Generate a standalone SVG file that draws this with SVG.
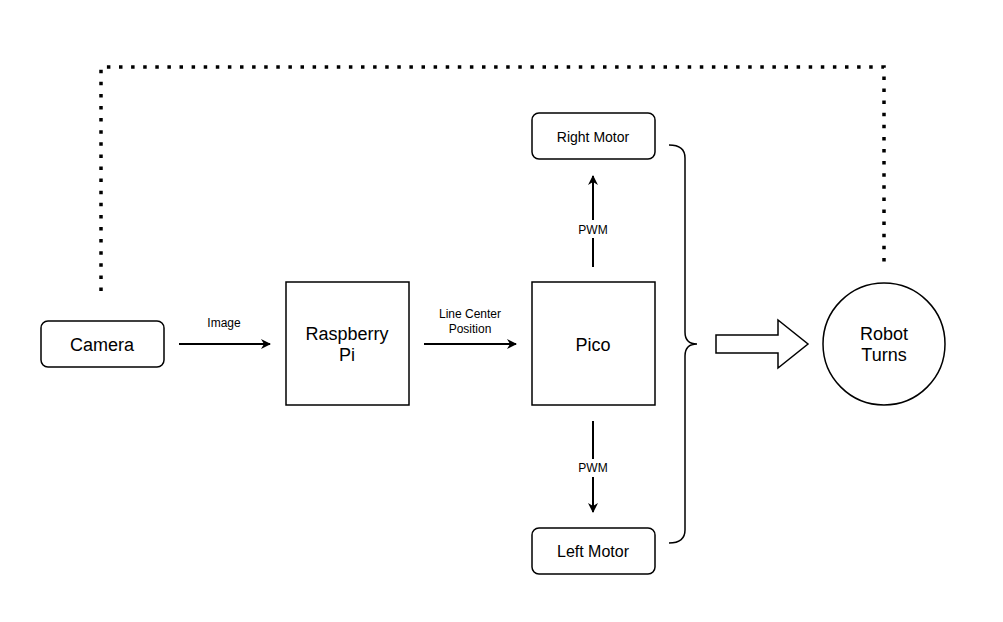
<svg xmlns="http://www.w3.org/2000/svg" width="1003" height="622" viewBox="0 0 1003 622">
<defs>
<style>
.n{fill:#fff;stroke:#000;stroke-width:1.5}
.t{font-family:"Liberation Sans",Arial,sans-serif;font-size:18px;text-anchor:middle;fill:#000}
.s{font-family:"Liberation Sans",Arial,sans-serif;font-size:12px;text-anchor:middle;fill:#000}
.c{fill:none;stroke:#000;stroke-width:2}
</style>
<marker id="a" markerWidth="10" markerHeight="10" refX="9" refY="5" orient="auto" markerUnits="userSpaceOnUse" viewBox="0 0 10 10">
<path d="M0,0 L10,5 L0,10 L3,5 Z" fill="#000"/>
</marker>
</defs>
<rect width="1003" height="622" fill="#fff"/>
<g id="connectors">
<path d="M101,291 V67 H884 V268" style="fill:none;stroke:#000;stroke-width:3.5;stroke-dasharray:3.5 8.6"/>
<line class="c" x1="179" y1="344" x2="270" y2="344" marker-end="url(#a)"/>
<text class="s" x="224" y="327">Image</text>
<line class="c" x1="424" y1="344" x2="516" y2="344" marker-end="url(#a)"/>
<text class="s" x="470" y="318">Line Center</text>
<text class="s" x="470" y="333">Position</text>
<line class="c" x1="593" y1="267" x2="593" y2="176" marker-end="url(#a)"/>
<rect x="575" y="220" width="36" height="18" fill="#fff"/>
<text class="s" x="593" y="234">PWM</text>
<line class="c" x1="593" y1="421" x2="593" y2="512" marker-end="url(#a)"/>
<rect x="575" y="459" width="36" height="18" fill="#fff"/>
<text class="s" x="593" y="472">PWM</text>
<path d="M669,145 Q685,145 685,158 V332 Q685,344 697,344 Q685,344 685,356 V530 Q685,543 669,543" style="fill:none;stroke:#000;stroke-width:1.5"/>
<path class="n" d="M716,335 H778 V320 L808,344 L778,368 V353 H716 Z"/>
</g>
<g id="camera"><rect class="n" x="41" y="321" width="123" height="46" rx="7"/><text class="t" x="102" y="351">Camera</text></g>
<g id="rpi"><rect class="n" x="286" y="282" width="123" height="123"/><text class="t" x="347" y="340">Raspberry</text><text class="t" x="347" y="361">Pi</text></g>
<g id="pico"><rect class="n" x="532" y="282" width="123" height="123"/><text class="t" x="593" y="351">Pico</text></g>
<g id="rightmotor"><rect class="n" x="532" y="113" width="123" height="46" rx="7"/><text class="s" x="593" y="142" style="font-size:14px">Right Motor</text></g>
<g id="leftmotor"><rect class="n" x="532" y="528" width="123" height="46" rx="7"/><text class="t" x="593" y="557" style="font-size:16px">Left Motor</text></g>
<g id="robot"><circle class="n" cx="884" cy="344" r="61"/><text class="t" x="884" y="340">Robot</text><text class="t" x="884" y="361">Turns</text></g>
</svg>
